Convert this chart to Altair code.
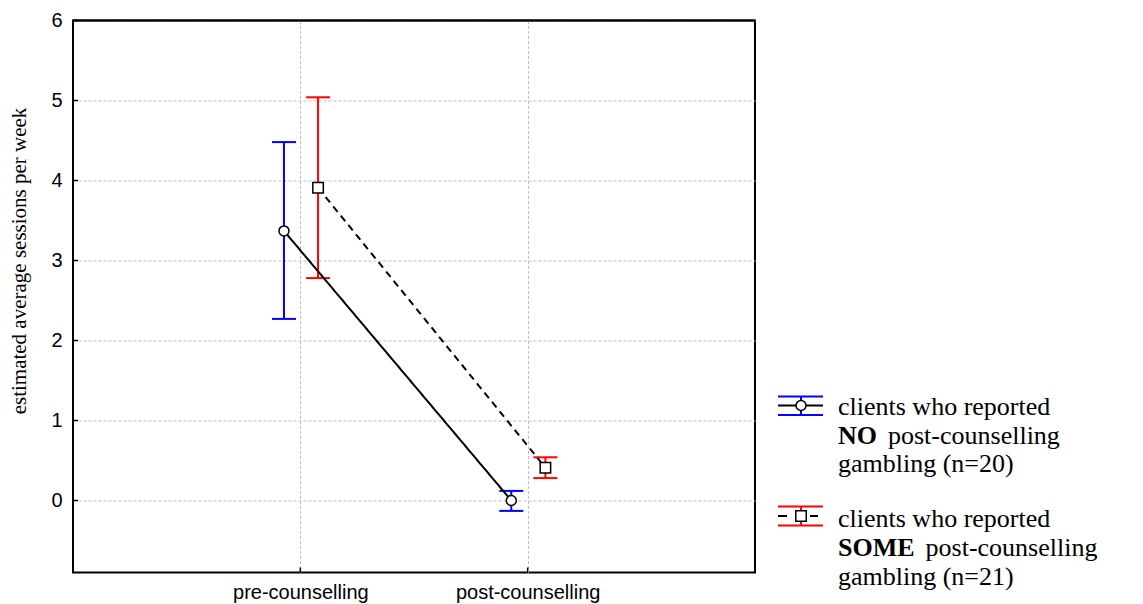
import altair as alt
import pandas as pd

# ---------------- data ----------------
phases = ["pre-counselling", "post-counselling"]
groups = ["NO", "SOME"]
no_mean = [3.37, 0.0]
no_low = [2.27, -0.13]
no_high = [4.48, 0.12]
some_mean = [3.91, 0.41]
some_low = [2.78, 0.28]
some_high = [5.04, 0.54]
y_ticks = [0, 1, 2, 3, 4, 5, 6]
x_ticks = [1, 2]

legend_line1 = "clients who reported"
legend_bold = ["NO", "SOME"]
legend_rest = "post-counselling"
legend_line3 = ["gambling (n=20)", "gambling (n=21)"]
y_title = "estimated average sessions per week"

# ---------------- layout ----------------
W, H = 682, 552
offsets = {"NO": -0.072, "SOME": 0.078}
colors = ["#0000ff", "#ff0000"]

rows = []
for g, m, lo, hi in [("NO", no_mean, no_low, no_high),
                     ("SOME", some_mean, some_low, some_high)]:
    for i, p in enumerate(phases):
        rows.append(dict(group=g, phase=p, pos=i + 1 + offsets[g],
                         mean=m[i], low=lo[i], high=hi[i]))
df = pd.DataFrame(rows)

label_expr = "[" + ",".join("'" + p + "'" for p in phases) + "][datum.value - 1]"

xs = alt.Scale(domain=[0, 3], nice=False, zero=False)
ys = alt.Scale(domain=[-0.9, 6], nice=False, zero=False)
col = alt.Color("group:N", scale=alt.Scale(domain=groups, range=colors), legend=None)

xaxis = alt.Axis(
    values=x_ticks, labelExpr=label_expr, title=None, grid=True,
    gridColor="#bdbdbd", gridDash=[3, 2], gridWidth=1,
    ticks=False, domain=False, labelFont="Liberation Sans", labelFontSize=20,
    labelColor="black", labelPadding=10)
yaxis = alt.Axis(
    values=y_ticks, title=y_title, grid=True,
    gridColor="#bdbdbd", gridDash=[3, 2], gridWidth=1,
    ticks=False, domain=False, labelFont="Liberation Sans", labelFontSize=20,
    labelColor="black", labelPadding=11,
    titleFont="Liberation Serif", titleFontSize=21, titleFontWeight="normal",
    titleColor="black", titleX=-44, titleY=240)


def X(f):
    return alt.X(f, scale=xs, axis=xaxis)


def Y(f):
    return alt.Y(f, scale=ys, axis=yaxis)


base = alt.Chart(df)

bars = base.mark_rule(strokeWidth=2).encode(x=X("pos:Q"), y=Y("low:Q"), y2="high:Q", color=col)
cap_lo = base.mark_rule(strokeWidth=2, xOffset=-12, x2Offset=12).encode(
    x=X("pos:Q"), x2="pos:Q", y=Y("low:Q"), color=col)
cap_hi = base.mark_rule(strokeWidth=2, xOffset=-12, x2Offset=12).encode(
    x=X("pos:Q"), x2="pos:Q", y=Y("high:Q"), color=col)

lines = base.mark_line(color="black", strokeWidth=2).encode(
    x=X("pos:Q"), y=Y("mean:Q"), detail="group:N",
    strokeDash=alt.StrokeDash("group:N", scale=alt.Scale(domain=groups, range=[[1, 0], [7, 5]]),
                              legend=None))

pts = base.mark_point(filled=True, fill="white", stroke="black", strokeWidth=1.5, opacity=1).encode(
    x=X("pos:Q"), y=Y("mean:Q"),
    shape=alt.Shape("group:N", scale=alt.Scale(domain=groups, range=["circle", "square"]), legend=None),
    size=alt.Size("group:N", scale=alt.Scale(domain=groups, range=[100, 110]), legend=None))

# inward tick marks and top frame edge over the grid
yt = alt.Chart(pd.DataFrame({"v": y_ticks})).mark_rule(color="black", strokeWidth=1.5).encode(
    y=Y("v:Q"), x=alt.value(0), x2=alt.value(5))
xt = alt.Chart(pd.DataFrame({"v": x_ticks})).mark_rule(color="black", strokeWidth=1.5).encode(
    x=X("v:Q"), y=alt.value(H), y2=alt.value(H - 5))
one = pd.DataFrame({"k": [0]})
top_edge = alt.Chart(one).mark_rule(color="black", strokeWidth=2).encode(
    x=alt.value(0), x2=alt.value(W), y=alt.value(0))

# ---------------- custom legend ----------------
LX0, LX1, LXC = 705, 750, 728
TX = 765
leg_layers = []
leg_specs = [
    (0, 376, 394.5, 385, [394.5, 423.5, 451.5], False),
    (1, 486, 505, 495.5, [506, 535.5, 564], True),
]
FS = 26
bold_w = {"NO": 1.5 * FS, "SOME": 2.945 * FS}
for gi, top, bot, mid, ybl, dashed in leg_specs:
    c = colors[gi]
    g = groups[gi]
    for yy in (top, bot):
        leg_layers.append(alt.Chart(one).mark_rule(color=c, strokeWidth=2).encode(
            x=alt.value(LX0), x2=alt.value(LX1), y=alt.value(yy)))
    leg_layers.append(alt.Chart(one).mark_rule(color=c, strokeWidth=2).encode(
        x=alt.value(LXC), y=alt.value(top), y2=alt.value(bot)))
    if dashed:
        for a, b in ((LX0, LX0 + 9), (LXC + 9, LXC + 17)):
            leg_layers.append(alt.Chart(one).mark_rule(color="black", strokeWidth=2).encode(
                x=alt.value(a), x2=alt.value(b), y=alt.value(mid)))
        shape, size = "square", 110
    else:
        leg_layers.append(alt.Chart(one).mark_rule(color="black", strokeWidth=2).encode(
            x=alt.value(LX0), x2=alt.value(LX1), y=alt.value(mid)))
        shape, size = "circle", 100
    leg_layers.append(alt.Chart(one).mark_point(
        shape=shape, size=size, filled=True, fill="white", stroke="black",
        strokeWidth=1.5, opacity=1).encode(x=alt.value(LXC), y=alt.value(mid)))
    texts = [
        (legend_line1, TX, ybl[0], "normal"),
        (g, TX, ybl[1], "bold"),
        (legend_rest, TX + bold_w[g] + 11, ybl[1], "normal"),
        (legend_line3[gi], TX, ybl[2], "normal"),
    ]
    for t, tx, ty, fw in texts:
        leg_layers.append(alt.Chart(pd.DataFrame({"t": [t]})).mark_text(
            align="left", baseline="alphabetic", font="Liberation Serif",
            fontSize=FS, fontWeight=fw, color="black").encode(
            text="t:N", x=alt.value(tx), y=alt.value(ty)))

chart = alt.layer(bars, cap_lo, cap_hi, lines, pts, yt, xt, top_edge, *leg_layers).properties(
    width=W, height=H,
    background="white",
    autosize=alt.AutoSizeParams(type="none"),
    padding={"left": 65, "top": 12.5, "right": 378, "bottom": 34},
).configure_view(stroke="black", strokeWidth=2)

chart.save("out.html", embed_options={"renderer": "svg", "actions": False})
